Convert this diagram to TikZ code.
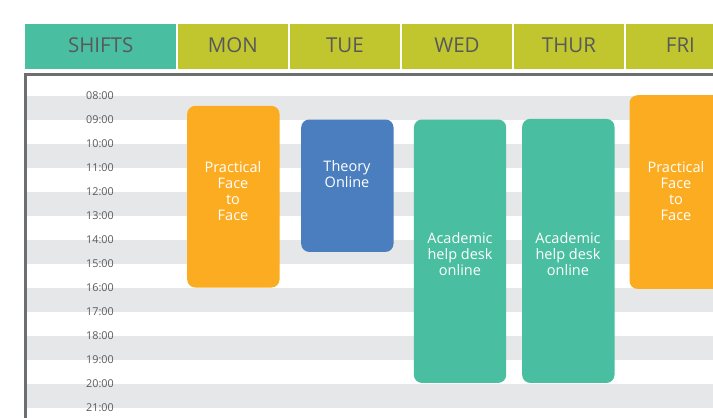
\documentclass[tikz,border=0pt]{standalone}
\usepackage{fontspec}
\setmainfont{Open Sans}
\usepackage{tikz}
\usetikzlibrary{positioning}

\definecolor{shiftteal}{HTML}{4ABEA0}
\definecolor{dayolive}{HTML}{C1C62F}
\definecolor{slotorange}{HTML}{FBAC20}
\definecolor{slotblue}{HTML}{4A7EBF}
\definecolor{stripegray}{HTML}{E6E7E8}
\definecolor{inkgray}{HTML}{58595B}
\definecolor{framegray}{HTML}{6D6E71}

\tikzset{
  headcell/.style={anchor=north west, inner sep=0pt, minimum height=45pt, text=inkgray,
    text height=14.6pt, text depth=2.4pt, font=\fontsize{20.5}{24}\selectfont},
  dayhead/.style={headcell, fill=dayolive, minimum width=109.5pt},
  hourlabel/.style={anchor=east, inner sep=0pt, text=inkgray, font=\fontsize{10.8}{12}\selectfont},
  slotbox/.style={anchor=north west, rounded corners=8pt, inner sep=0pt, minimum width=92.3pt},
  slottext/.style={align=center, text=white, inner sep=0pt, font=\fontsize{14.5}{16}\selectfont}
}

\begin{document}
\begin{tikzpicture}[x=1pt, y=-1pt]
  \useasboundingbox (0,0) rectangle (713,418);
  \clip (0,0) rectangle (713,418);
  \node[headcell, fill=shiftteal, minimum width=151pt] (shifts) at (25,24) {SHIFTS};
  \foreach \n/\lab/\x in {mon/MON/178, tue/TUE/290, wed/WED/402, thur/THUR/514, fri/FRI/625.5}
    \node[dayhead] (\n) at (\x,24) {\lab};
  \foreach \h in {8,10,...,20}
    \fill[stripegray] (26,{95.7+24*(\h-8)}) rectangle (713,{119.7+24*(\h-8)});
  \draw[framegray, line width=2.4pt] (25.5,460) -- (25.5,74.5) -- (760,74.5);
  \foreach \h in {8,...,21}
    \node[hourlabel] (h\h) at (114,{95.7+24*(\h-8)}) {\ifnum\h<10 0\fi\h:00};
  \node[slotbox, fill=slotorange, minimum height=181.6pt] (monslot) at (187,105.7) {};
  \node[slotbox, fill=slotblue, minimum height=132.4pt] (tueslot) at (301,119.3) {};
  \node[slotbox, fill=shiftteal, minimum height=263.4pt] (wedslot) at (413.7,119.3) {};
  \node[slotbox, fill=shiftteal, minimum height=264pt] (thurslot) at (522,118.7) {};
  \node[slotbox, fill=slotorange, minimum height=193.7pt] (frislot) at (629.3,95) {};
  \node[slottext] (montext) at (233,191) {Practical\\Face\\to\\Face};
  \node[slottext] (tuetext) at (347,174) {Theory\\Online};
  \node[slottext] (wedtext) at (460,254) {Academic\\help desk\\online};
  \node[slottext] (thurtext) at (568,254) {Academic\\help desk\\online};
  \node[slottext] (fritext) at (676,191) {Practical\\Face\\to\\Face};
\end{tikzpicture}
\end{document}
